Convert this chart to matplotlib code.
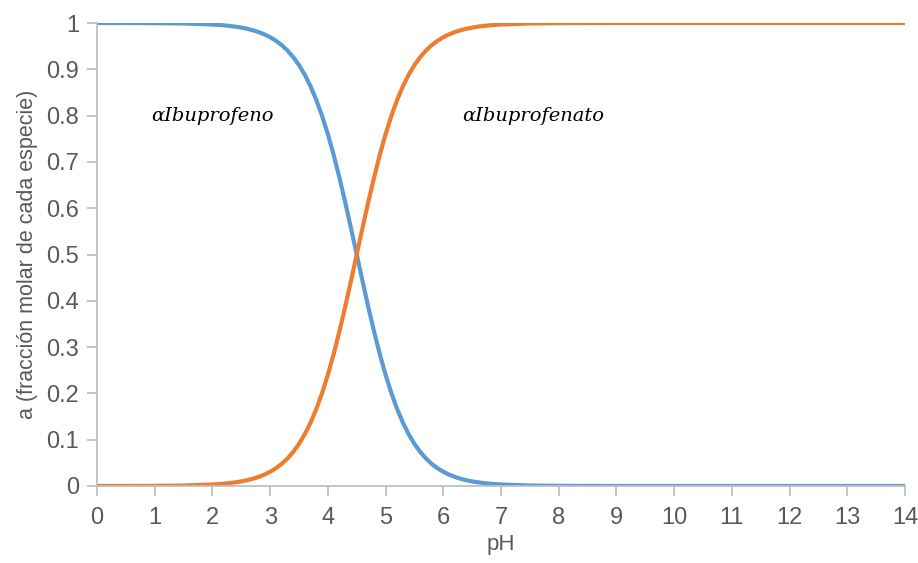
import matplotlib.pyplot as plt
from matplotlib.ticker import FuncFormatter

# pH values (denser where the curves bend)
ph = [0, 0.5, 1, 1.5,
      2.0, 2.1, 2.2, 2.3, 2.4, 2.5, 2.6, 2.7, 2.8, 2.9,
      3.0, 3.1, 3.2, 3.3, 3.4, 3.5, 3.6, 3.7, 3.8, 3.9,
      4.0, 4.1, 4.2, 4.3, 4.4, 4.5, 4.6, 4.7, 4.8, 4.9,
      5.0, 5.1, 5.2, 5.3, 5.4, 5.5, 5.6, 5.7, 5.8, 5.9,
      6.0, 6.1, 6.2, 6.3, 6.4, 6.5, 6.6, 6.7, 6.8, 6.9,
      7.0, 7.5, 8, 9, 10, 11, 12, 13, 14]

# fraccion molar, forma acida (azul)
alfa_ibuprofeno = [1.0, 1.0, 0.9997, 0.9990,
                   0.9968, 0.9960, 0.9950, 0.9937, 0.9921, 0.9901, 0.9876, 0.9844, 0.9804, 0.9755,
                   0.9693, 0.9617, 0.9523, 0.9406, 0.9264, 0.9091, 0.8882, 0.8632, 0.8337, 0.7993,
                   0.7597, 0.7153, 0.6661, 0.6131, 0.5573, 0.5000, 0.4427, 0.3869, 0.3339, 0.2847,
                   0.2403, 0.2007, 0.1663, 0.1368, 0.1118, 0.0909, 0.0736, 0.0594, 0.0477, 0.0383,
                   0.0307, 0.0245, 0.0196, 0.0156, 0.0124, 0.0099, 0.0079, 0.0063, 0.0050, 0.0040,
                   0.0032, 0.0010, 0.0003, 0.0, 0.0, 0.0, 0.0, 0.0, 0.0]

# fraccion molar, forma basica (naranja)
alfa_ibuprofenato = [0.0, 0.0, 0.0003, 0.0010,
                     0.0032, 0.0040, 0.0050, 0.0063, 0.0079, 0.0099, 0.0124, 0.0156, 0.0196, 0.0245,
                     0.0307, 0.0383, 0.0477, 0.0594, 0.0736, 0.0909, 0.1118, 0.1368, 0.1663, 0.2007,
                     0.2403, 0.2847, 0.3339, 0.3869, 0.4427, 0.5000, 0.5573, 0.6131, 0.6661, 0.7153,
                     0.7597, 0.7993, 0.8337, 0.8632, 0.8882, 0.9091, 0.9264, 0.9406, 0.9523, 0.9617,
                     0.9693, 0.9755, 0.9804, 0.9844, 0.9876, 0.9901, 0.9921, 0.9937, 0.9950, 0.9960,
                     0.9968, 0.9990, 0.9997, 1.0, 1.0, 1.0, 1.0, 1.0, 1.0]

gray = '#BFBFBF'
text_gray = '#595959'

plt.rcParams['font.family'] = ['Liberation Sans', 'DejaVu Sans']

fig = plt.figure(figsize=(9.18, 5.63), dpi=100)
ax = fig.add_axes([0.1057, 0.1368, 0.8801, 0.8223])

ax.plot(ph, alfa_ibuprofeno, color='#5B9BD5', lw=3, solid_capstyle='round',
        solid_joinstyle='round')
ax.plot(ph, alfa_ibuprofenato, color='#ED7D31', lw=3, solid_capstyle='round',
        solid_joinstyle='round')

ax.set_xlim(0, 14)
ax.set_ylim(0, 1)
ax.set_xticks(range(0, 15))
ax.set_yticks([i / 10 for i in range(11)])
ax.yaxis.set_major_formatter(FuncFormatter(lambda v, p: f'{v:g}'))

for s in ['top', 'right']:
    ax.spines[s].set_visible(False)
for s in ['left', 'bottom']:
    ax.spines[s].set_color(gray)
    ax.spines[s].set_linewidth(1.3)
ax.tick_params(axis='both', colors=gray, width=1.3, length=7,
               labelcolor=text_gray, labelsize=17)
ax.tick_params(axis='x', pad=8)
ax.tick_params(axis='y', pad=6)

ax.set_xlabel('pH', fontsize=16, color=text_gray, labelpad=4)
ax.set_ylabel('a (fracción molar de cada especie)', fontsize=15.5,
              color=text_gray, labelpad=6)

ax.text(2.0, 0.80, 'αIbuprofeno', fontsize=14, style='italic',
        family='DejaVu Serif', ha='center', va='center', color='black')
ax.text(7.55, 0.80, 'αIbuprofenato', fontsize=14, style='italic',
        family='DejaVu Serif', ha='center', va='center', color='black')

fig.savefig('out.png', dpi=100)
